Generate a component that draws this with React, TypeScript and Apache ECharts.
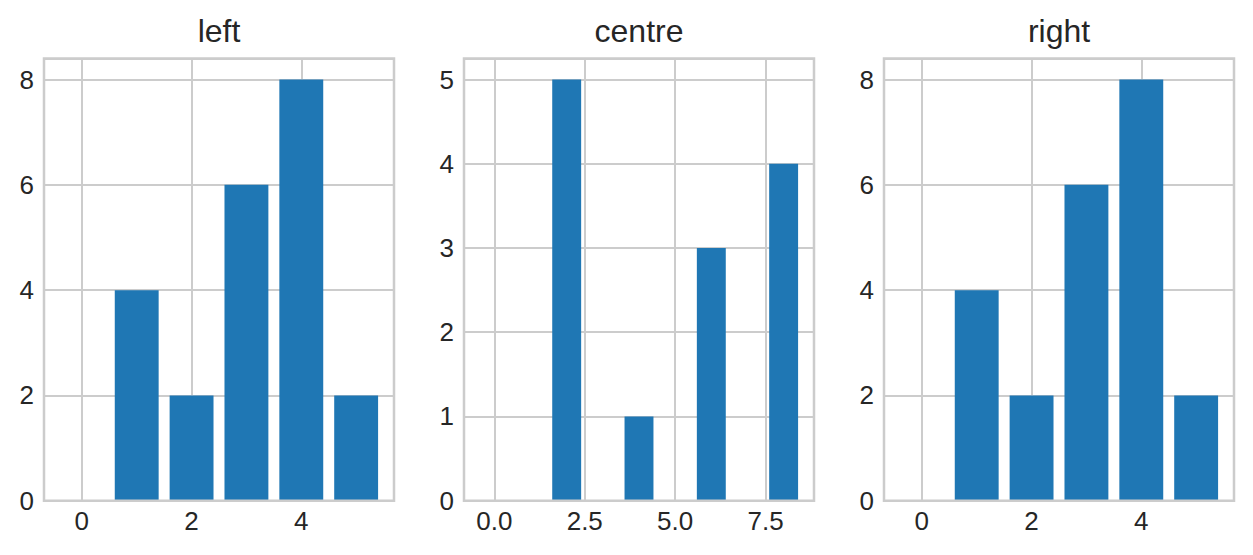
import React, { useEffect, useRef } from "react";
import * as echarts from "echarts";

const TITLES = ["left", "centre", "right"];
const LEFT_X = [0, 1, 2, 3, 4, 5];
const LEFT_Y = [0, 4, 2, 6, 8, 2];
const CENTRE_X = [0, 2, 4, 6, 8];
const CENTRE_Y = [0, 5, 1, 3, 4];
const RIGHT_X = [0, 1, 2, 3, 4, 5];
const RIGHT_Y = [0, 4, 2, 6, 8, 2];
const X_TICK_STEP = [2, 2.5, 2];
const Y_TICK_STEP = [2, 1, 2];
const X_DECIMALS = [0, 1, 0];

const PANELS = [
  { xs: LEFT_X, ys: LEFT_Y },
  { xs: CENTRE_X, ys: CENTRE_Y },
  { xs: RIGHT_X, ys: RIGHT_Y },
];

const BAR_W = 0.8;
const GRID_LEFTS = [44, 464, 884];
const GRID_W = 350;
const GRID_TOP = 58.5;
const GRID_H = 442.2;
const FONT = "'Liberation Sans', Arial, sans-serif";
const TEXT = "#262626";
const GRIDC = "#cccccc";
const BLUE = "#1f77b4";

export default function App() {
  const ref = useRef<HTMLDivElement>(null);
  useEffect(() => {
    if (!ref.current) return;
    const chart = echarts.init(ref.current, null, { renderer: "svg" });
    const grids: any[] = [];
    const xAxes: any[] = [];
    const yAxes: any[] = [];
    const series: any[] = [];
    const graphics: any[] = [];
    PANELS.forEach((p, i) => {
      const lo = Math.min(...p.xs) - BAR_W / 2;
      const hi = Math.max(...p.xs) + BAR_W / 2;
      const pad = 0.05 * (hi - lo);
      const ymax = 1.05 * Math.max(...p.ys);
      grids.push({
        left: GRID_LEFTS[i],
        top: GRID_TOP,
        width: GRID_W,
        height: GRID_H,
        show: true,
        z: 5,
        backgroundColor: "transparent",
        borderColor: GRIDC,
        borderWidth: 2.5,
      });
      xAxes.push({
        type: "value",
        gridIndex: i,
        min: lo - pad,
        max: hi + pad,
        minInterval: X_TICK_STEP[i],
        maxInterval: X_TICK_STEP[i],
        axisLine: { show: false },
        axisTick: { show: false },
        splitLine: { show: true, lineStyle: { color: GRIDC, width: 2 } },
        axisLabel: {
          showMinLabel: false,
          showMaxLabel: false,
          margin: 7,
          fontSize: 26,
          fontFamily: FONT,
          color: TEXT,
          formatter: (v: number) => v.toFixed(X_DECIMALS[i]),
        },
      });
      yAxes.push({
        type: "value",
        gridIndex: i,
        min: 0,
        max: ymax,
        interval: Y_TICK_STEP[i],
        axisLine: { show: false },
        axisTick: { show: false },
        splitLine: { show: true, lineStyle: { color: GRIDC, width: 2 } },
        axisLabel: {
          showMaxLabel: false,
          margin: 10,
          fontSize: 26,
          fontFamily: FONT,
          color: TEXT,
          formatter: (v: number) => String(Math.round(v)),
        },
      });
      series.push({
        type: "custom",
        xAxisIndex: i,
        yAxisIndex: i,
        z: 2,
        data: p.xs.map((x, j) => [x, p.ys[j]]),
        renderItem: (params: any, api: any) => {
          const x = api.value(0);
          const y = api.value(1);
          const a = api.coord([x - BAR_W / 2, y]);
          const b = api.coord([x + BAR_W / 2, 0]);
          return {
            type: "rect",
            shape: { x: a[0], y: a[1], width: b[0] - a[0], height: b[1] - a[1] },
            style: { fill: BLUE },
          };
        },
      });
      graphics.push({
        type: "text",
        x: GRID_LEFTS[i] + GRID_W / 2,
        y: 31,
        style: {
          text: TITLES[i],
          align: "center",
          verticalAlign: "middle",
          fontSize: 32,
          fontFamily: FONT,
          fill: TEXT,
        },
      });
    });
    chart.setOption({
      animation: false,
      backgroundColor: "#ffffff",
      grid: grids,
      xAxis: xAxes,
      yAxis: yAxes,
      series,
      graphic: graphics,
    });
    return () => chart.dispose();
  }, []);
  return (
    <div
      ref={ref}
      style={{ position: "fixed", left: 0, top: 0, width: 1253, height: 555 }}
    />
  );
}
